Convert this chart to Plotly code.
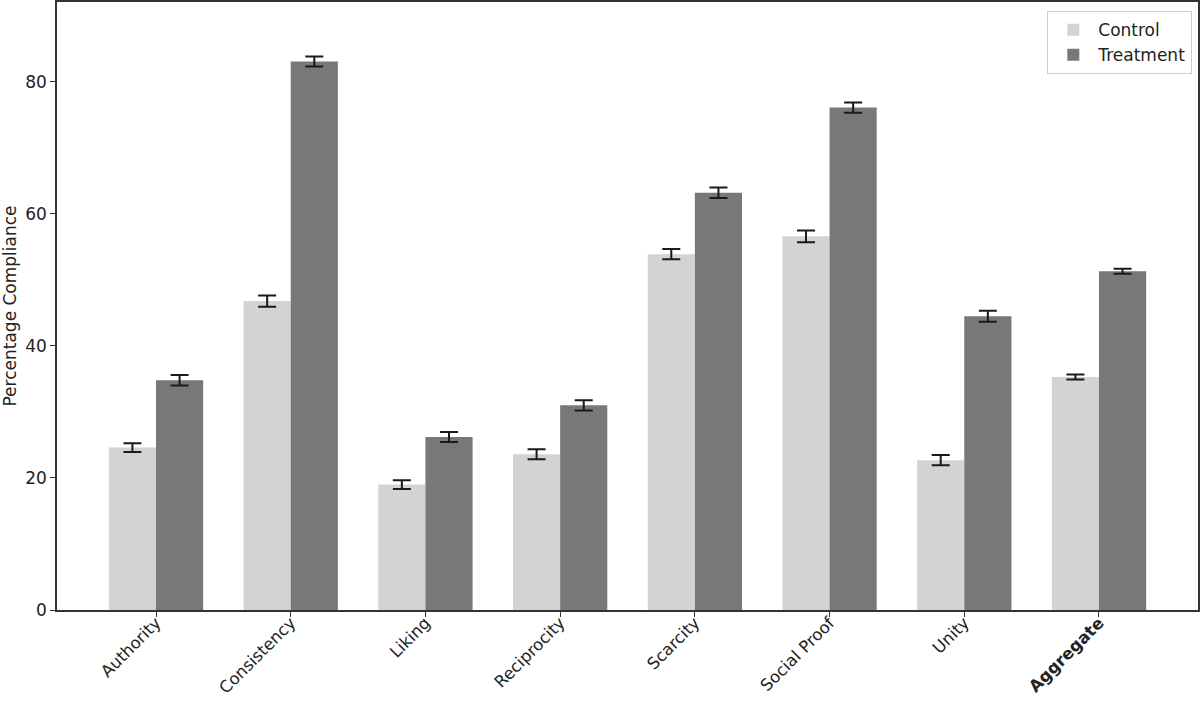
import plotly.graph_objects as go

categories = ["Authority", "Consistency", "Liking", "Reciprocity", "Scarcity", "Social Proof", "Unity", "Aggregate"]
tick_labels = ["Authority", "Consistency", "Liking", "Reciprocity", "Scarcity", "Social Proof", "Unity", "<b>Aggregate</b>"]
control = [24.6, 46.8, 19.0, 23.6, 53.9, 56.6, 22.7, 35.3]
control_err = [0.65, 0.85, 0.66, 0.76, 0.78, 0.9, 0.78, 0.38]
treatment = [34.8, 83.1, 26.2, 31.0, 63.2, 76.1, 44.5, 51.3]
treatment_err = [0.8, 0.76, 0.76, 0.78, 0.8, 0.79, 0.83, 0.38]
y_ticks = [0, 20, 40, 60, 80]

fig = go.Figure()
fig.add_trace(go.Bar(
    name="Control", x=categories, y=control,
    marker=dict(color="#d3d3d3", line=dict(width=0)),
    error_y=dict(type="data", array=control_err, color="#1a1a1a", thickness=2, width=9),
))
fig.add_trace(go.Bar(
    name="Treatment", x=categories, y=treatment,
    marker=dict(color="#787878", line=dict(width=0)),
    error_y=dict(type="data", array=treatment_err, color="#1a1a1a", thickness=2, width=9),
))

fig.update_layout(
    width=1200, height=702,
    margin=dict(l=57, r=2, t=2, b=92),
    barmode="group", bargap=0.3, bargroupgap=0,
    plot_bgcolor="white", paper_bgcolor="white",
    font=dict(family="DejaVu Sans", size=17, color="#222"),
    legend=dict(
        x=0.995, y=0.985, xanchor="right", yanchor="top",
        bordercolor="#cccccc", borderwidth=1, bgcolor="rgba(255,255,255,0.8)",
        font=dict(size=17), itemwidth=40,
    ),
    showlegend=True,
)
fig.update_xaxes(
    range=[-0.735, 7.735], automargin=False,
    tickvals=categories, ticktext=tick_labels, tickangle=-45,
    ticks="outside", ticklen=5, tickcolor="#333", tickwidth=1.2,
    ticklabelstandoff=-10,
    showline=True, linecolor="#333", linewidth=1.5, mirror=True,
    showgrid=False, tickfont=dict(size=16.5),
)
fig.update_yaxes(
    range=[0, 92.1], tickvals=y_ticks, automargin=False,
    ticks="outside", ticklen=5, tickcolor="#333", tickwidth=1.2,
    showline=True, linecolor="#333", linewidth=1.5, mirror=True,
    showgrid=False, zeroline=False, tickfont=dict(size=17),
    title=dict(text="Percentage Compliance", font=dict(size=17), standoff=6),
)

fig.write_html("out.html")
